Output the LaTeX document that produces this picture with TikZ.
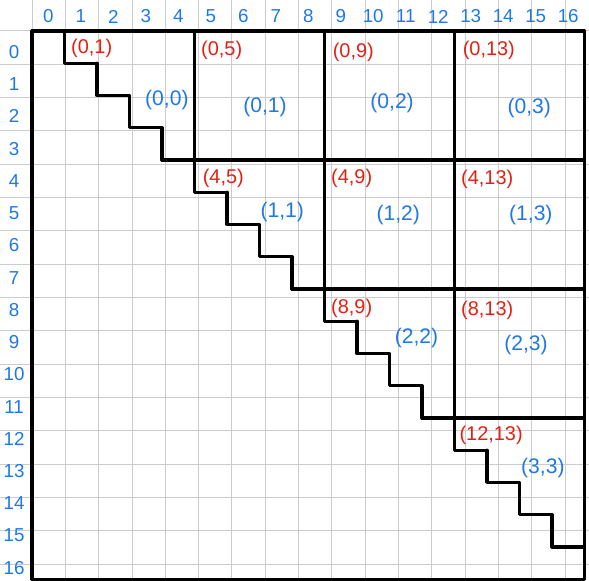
\documentclass[tikz,border=0pt]{standalone}
\usepackage{fontspec}
\setmainfont{Liberation Sans}
\usepackage{tikz}
\usetikzlibrary{positioning}
\definecolor{inkred}{RGB}{228,32,18}
\definecolor{inkblue}{RGB}{30,120,232}
\definecolor{paper}{RGB}{204,204,204}

\begin{document}
\begin{tikzpicture}[x=0.975cm,y=-0.9675cm,
    gridline/.style={draw=paper,line width=0.85pt},
    wall/.style={draw,line width=2.7pt,line cap=round,line join=round},
    idx/.style={text=inkblue,font=\fontsize{16}{18}\selectfont,inner sep=0pt},
    corner/.style={text=inkred,font=\fontsize{17}{19}\selectfont,anchor=west,inner sep=0pt},
    tile/.style={text=inkblue,font=\fontsize{18}{20}\selectfont,inner sep=0pt}]
    \useasboundingbox (-0.985,-0.961) rectangle (17.14,17.05);
    \clip (-0.985,-0.961) rectangle (17.14,17.05);
    % squared paper
    \draw[gridline] (-1,-1) grid (18,18);
    % index numbers
    \foreach \k in {0,...,16} {
        \node[idx] (col\k) at (\k+0.5,-0.45) {\k};
        \node[idx] (row\k) at (-0.55,\k+0.65) {\k};
    }
    % outer frame
    \draw[wall] (0,0) rectangle (17,17);
    \draw[line width=3.6pt] (0,0) -- (0,17);
    % staircase
    \foreach \i in {1,...,16}
        \draw[wall] (\i,\i-1) -- (\i,\i) -- (\i+1,\i);
    % block borders
    \draw[wall] (5,0) -- (5,4);
    \draw[wall] (9,0) -- (9,8);
    \draw[wall] (13,0) -- (13,12);
    \draw[wall] (4,4) -- (17,4);
    \draw[wall] (8,8) -- (17,8);
    \draw[wall] (12,12) -- (17,12);
    % block corners
    \node[corner] (c01) at (1.2,0.55) {(0,1)};
    \node[corner] (c05) at (5.2,0.6) {(0,5)};
    \node[corner] (c09) at (9.25,0.65) {(0,9)};
    \node[corner] (c013) at (13.25,0.6) {(0,13)};
    \node[corner] (c45) at (5.25,4.58) {(4,5)};
    \node[corner] (c49) at (9.2,4.58) {(4,9)};
    \node[corner] (c413) at (13.2,4.6) {(4,13)};
    \node[corner] (c89) at (9.2,8.6) {(8,9)};
    \node[corner] (c813) at (13.2,8.65) {(8,13)};
    \node[corner] (c1213) at (13.15,12.55) {(12,13)};
    % block indices
    \node[tile] (b00) at (4.15,2.14) {(0,0)};
    \node[tile] (b01) at (7.17,2.36) {(0,1)};
    \node[tile] (b02) at (11.08,2.23) {(0,2)};
    \node[tile] (b03) at (15.3,2.39) {(0,3)};
    \node[tile] (b11) at (7.7,5.6) {(1,1)};
    \node[tile] (b12) at (11.27,5.7) {(1,2)};
    \node[tile] (b13) at (15.35,5.7) {(1,3)};
    \node[tile] (b22) at (11.83,9.52) {(2,2)};
    \node[tile] (b23) at (15.2,9.74) {(2,3)};
    \node[tile] (b33) at (15.72,13.55) {(3,3)};
\end{tikzpicture}
\end{document}
